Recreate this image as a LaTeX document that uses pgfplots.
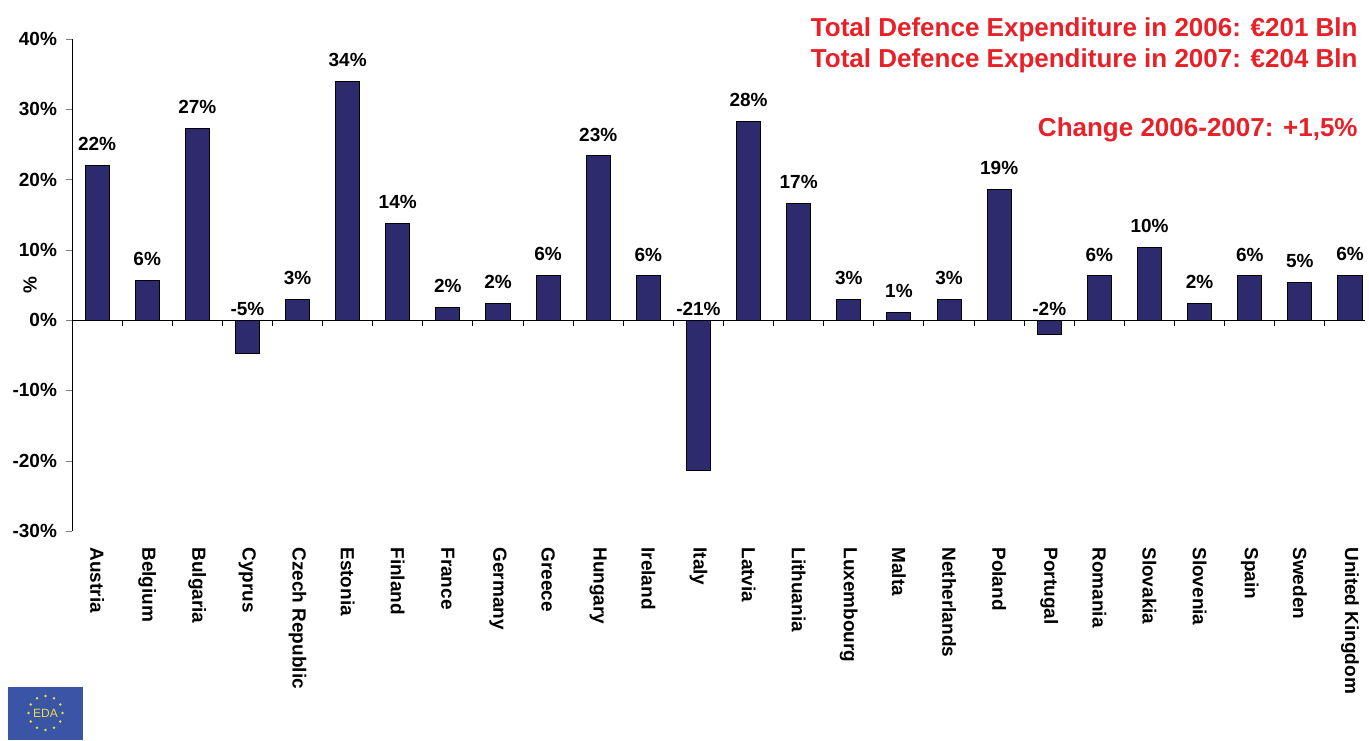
\documentclass[border=0pt]{standalone}
\usepackage{fontspec}
\setmainfont{Liberation Sans}
\usepackage{pgfplots}
\usepackage{pgfplotstable}
\pgfplotsset{compat=1.18}
\definecolor{barblue}{RGB}{46,42,110}
\definecolor{edared}{RGB}{232,32,40}
\definecolor{edablue}{RGB}{58,84,166}
\definecolor{edayellow}{RGB}{232,222,70}

\pgfplotstableread{
idx v
0 22.0
1 5.7
2 27.3
3 -4.8
4 3.0
5 34.0
6 13.8
7 1.8
8 2.4
9 6.4
10 23.4
11 6.3
12 -21.4
13 28.3
14 16.6
15 3.0
16 1.1
17 3.0
18 18.6
19 -2.1
20 6.3
21 10.4
22 2.4
23 6.3
24 5.4
25 6.4
}\data

\begin{document}
\begin{tikzpicture}
\path[use as bounding box] (0,0) rectangle (684.5pt,370pt);
\begin{axis}[
  at={(36pt,104.5pt)}, anchor=south west,
  scale only axis, width=646.5pt, height=246pt,
  xmin=-0.5, xmax=25.3, ymin=-30, ymax=40,
  axis lines*=left,
  x axis line style={draw=none},
  xtick={0,...,25},
  xticklabels={Austria,Belgium,Bulgaria,Cyprus,Czech Republic,Estonia,Finland,France,Germany,Greece,Hungary,Ireland,Italy,Latvia,Lithuania,Luxembourg,Malta,Netherlands,Poland,Portugal,Romania,Slovakia,Slovenia,Spain,Sweden,United Kingdom},
  x tick style={draw=none},
  xticklabel style={rotate=-90, anchor=west, inner sep=0pt, font=\bfseries\fontsize{9.5}{11}\selectfont},
  xticklabel shift=5pt,
  ytick={-30,-20,...,40},
  /pgf/number format/assume math mode=true,
  yticklabel={\pgfmathprintnumber{\tick}\%},
  yticklabel style={font=\bfseries\fontsize{9.5}{11}\selectfont, xshift=-1pt},
  tick align=outside,
  major tick length=3pt,
  ylabel={\%},
  ylabel style={font=\bfseries\fontsize{9.5}{11}\selectfont, at={(axis description cs:-0.0325,0.5)}, anchor=center},
  clip=false,
]
\addplot[ybar, bar width=0.48, fill=barblue, draw=black, line width=0.5pt]
  table[x=idx, y=v] {\data};
\addplot[draw=none, mark=none,
  point meta=explicit,
  nodes near coords={\pgfmathprintnumber[fixed,precision=0]{\pgfplotspointmeta}\%},
  nodes near coords style={anchor=south, inner sep=0pt, font=\bfseries\fontsize{9.5}{11}\selectfont, text=black},
] table[x=idx, y expr={ifthenelse(\thisrow{v}<0,0.6,\thisrow{v}+2)}, meta=v] {\data};
\draw[black, line width=0.6pt] (axis cs:-0.5,0) -- (axis cs:25.3,0);
\pgfplotsinvokeforeach{0.5,1.5,...,24.5}{
  \draw[black, line width=0.5pt] (axis cs:#1,0) -- ([yshift=-3pt]axis cs:#1,0);
}
\end{axis}
\node[anchor=base east, text=edared, font=\bfseries\fontsize{13}{15}\selectfont, inner sep=0pt] at (679pt,351.5pt) {Total Defence Expenditure in 2006: €201 Bln};
\node[anchor=base east, text=edared, font=\bfseries\fontsize{13}{15}\selectfont, inner sep=0pt] at (679pt,336pt) {Total Defence Expenditure in 2007: €204 Bln};
\node[anchor=base east, text=edared, font=\bfseries\fontsize{13}{15}\selectfont, inner sep=0pt] at (679pt,301.5pt) {Change 2006-2007: +1,5\%};
\fill[edablue] (4pt,0pt) rectangle (41.5pt,26.5pt);
\foreach \a in {0,30,...,330} {
  \fill[edayellow] ([shift={(\a:8.5pt)}]22.75pt,13.5pt) circle (0.7pt);
}
\node[text=edayellow, font=\fontsize{6}{7}\selectfont, inner sep=0pt] at (22.75pt,13.5pt) {EDA};
\end{tikzpicture}
\end{document}
